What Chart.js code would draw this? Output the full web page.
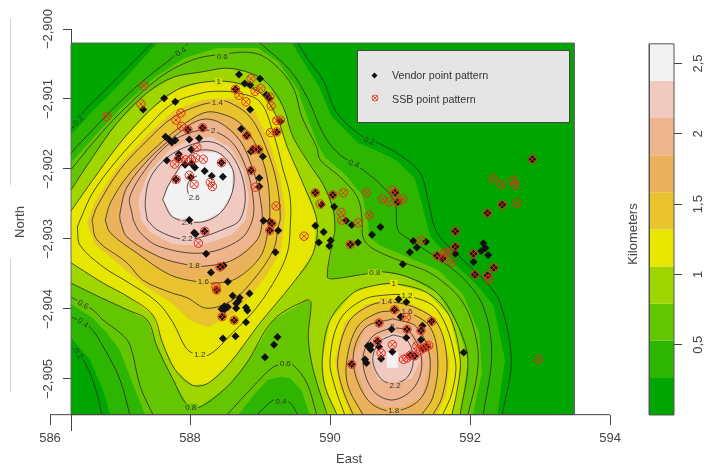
<!DOCTYPE html>
<html>
<head>
<meta charset="utf-8">
<script src="https://cdn.jsdelivr.net/npm/chart.js@4/dist/chart.umd.min.js"></script>
<style>
html, body { margin: 0; background: #fff; }
canvas { display: block; }
</style>
</head>
<body>
<canvas id="graph" width="719" height="466"></canvas>
<script>
// Axes
const eastTicks = [586, 588, 590, 592, 594];
const northTicks = [-2.9, -2.901, -2.902, -2.903, -2.904, -2.905];
const kmTicks = [0.5, 1, 1.5, 2, 2.5];
const kmLevels = [0, 0.264, 0.528, 0.792, 1.056, 1.32, 1.584, 1.848, 2.112, 2.376, 2.64];
const bandColors = ['#00A600', '#2DB600', '#63C600', '#A0D600', '#E6E600', '#E8C32E', '#EBB25E', '#EDB48E', '#F0C9C0', '#F2F2F2'];
const plotEast = [586.30, 593.49];
const plotNorth = [-2.9002, -2.90551];

// Contour lines
const c02a = [[586.30,-2.90144],[586.50,-2.90116],[586.76,-2.90090],[587.10,-2.90056],[587.46,-2.90020]];
const c02b = [[589.54,-2.90020],[589.69,-2.90044],[589.90,-2.90073],[590.10,-2.90120],[590.47,-2.90154],[590.69,-2.90163],[591.00,-2.90180],[591.29,-2.90206],[591.40,-2.90244],[591.53,-2.90291],[591.86,-2.90326],[592.24,-2.90363],[592.43,-2.90391],[592.59,-2.90473],[592.46,-2.90551]];
const c02c = [[586.30,-2.90454],[586.50,-2.90477],[586.67,-2.90520],[586.74,-2.90551]];
const c04a = [[586.30,-2.90177],[586.61,-2.90144],[587.00,-2.90104],[587.39,-2.90069],[587.76,-2.90040],[587.97,-2.90020]];
const c04b = [[589.00,-2.90020],[589.43,-2.90059],[589.69,-2.90101],[589.90,-2.90149],[590.10,-2.90176],[590.34,-2.90193],[590.47,-2.90201],[590.76,-2.90226],[590.93,-2.90249],[590.97,-2.90287],[591.14,-2.90301],[591.47,-2.90323],[591.90,-2.90356],[592.19,-2.90397],[592.31,-2.90463],[592.19,-2.90551]];
const c04c = [[586.30,-2.90411],[586.57,-2.90426],[586.76,-2.90454],[587.00,-2.90501],[587.14,-2.90551]];
const c04d = [[588.96,-2.90551],[589.19,-2.90530],[589.30,-2.90530],[589.43,-2.90534],[589.54,-2.90551]];
const c06a = [[586.30,-2.90201],[586.61,-2.90163],[587.00,-2.90120],[587.57,-2.90069],[588.04,-2.90044],[588.39,-2.90037],[588.90,-2.90034],[589.19,-2.90049],[589.47,-2.90083],[589.60,-2.90126],[589.81,-2.90169],[589.86,-2.90187],[590.14,-2.90211],[590.39,-2.90240],[590.46,-2.90273],[590.47,-2.90297],[590.60,-2.90313],[591.04,-2.90333],[591.47,-2.90351],[591.90,-2.90391],[592.10,-2.90449],[592.10,-2.90494],[591.97,-2.90551]];
const c06b = [[586.30,-2.90383],[586.61,-2.90401],[586.76,-2.90416],[587.00,-2.90434],[587.14,-2.90451],[587.29,-2.90511],[587.47,-2.90551]];
const c06c = [[588.53,-2.90551],[588.90,-2.90511],[589.19,-2.90483],[589.36,-2.90479],[589.47,-2.90480],[589.67,-2.90506],[589.81,-2.90551]];
const c08a = [[586.30,-2.90230],[586.61,-2.90183],[586.96,-2.90134],[587.39,-2.90091],[587.76,-2.90069],[588.19,-2.90061],[588.53,-2.90056],[588.86,-2.90063],[589.10,-2.90077],[589.33,-2.90111],[589.47,-2.90154],[589.76,-2.90201],[589.89,-2.90220],[590.04,-2.90256],[590.07,-2.90287],[590.04,-2.90301],[589.96,-2.90354],[590.04,-2.90357],[590.57,-2.90349],[590.76,-2.90347],[591.10,-2.90354],[591.53,-2.90377],[591.81,-2.90420],[591.97,-2.90473],[591.86,-2.90551]];
const c08b = [[586.30,-2.90363],[586.71,-2.90383],[587.10,-2.90401],[587.39,-2.90416],[587.53,-2.90454],[587.76,-2.90501],[587.96,-2.90537],[588.14,-2.90540],[588.53,-2.90511],[588.81,-2.90477],[589.19,-2.90416],[589.67,-2.90387],[589.73,-2.90391],[589.69,-2.90440],[589.76,-2.90487],[589.96,-2.90551]];
const c10a = [[586.30,-2.90260],[586.61,-2.90216],[587.00,-2.90163],[587.43,-2.90116],[587.81,-2.90087],[588.19,-2.90076],[588.61,-2.90076],[589.00,-2.90091],[589.24,-2.90126],[589.39,-2.90169],[589.61,-2.90220],[589.81,-2.90273],[589.76,-2.90320],[589.47,-2.90363],[589.00,-2.90420],[588.57,-2.90477],[588.26,-2.90506],[588.04,-2.90509],[587.79,-2.90487],[587.61,-2.90449],[587.47,-2.90409],[587.14,-2.90384],[586.76,-2.90363],[586.30,-2.90334]];
const c10b = [[590.10,-2.90551],[589.93,-2.90511],[589.89,-2.90473],[590.00,-2.90416],[590.33,-2.90377],[590.61,-2.90367],[590.91,-2.90364],[591.39,-2.90377],[591.71,-2.90411],[591.86,-2.90473],[591.81,-2.90520],[591.74,-2.90551]];
const c12a = [[586.39,-2.90283],[586.43,-2.90273],[586.61,-2.90234],[586.96,-2.90187],[587.39,-2.90140],[587.76,-2.90106],[588.19,-2.90091],[588.41,-2.90089],[588.67,-2.90091],[589.00,-2.90104],[589.19,-2.90149],[589.33,-2.90201],[589.43,-2.90240],[589.43,-2.90287],[589.39,-2.90320],[589.24,-2.90354],[588.96,-2.90397],[588.61,-2.90434],[588.26,-2.90466],[588.04,-2.90463],[587.93,-2.90454],[587.76,-2.90420],[587.53,-2.90390],[587.10,-2.90361],[586.76,-2.90340],[586.43,-2.90309],[586.39,-2.90283]];
const c12b = [[590.21,-2.90551],[590.07,-2.90511],[590.00,-2.90473],[590.14,-2.90416],[590.47,-2.90387],[590.81,-2.90380],[591.10,-2.90381],[591.53,-2.90401],[591.79,-2.90473],[591.74,-2.90520],[591.61,-2.90551]];
const c14a = [[586.60,-2.90273],[586.67,-2.90254],[587.00,-2.90201],[587.39,-2.90159],[587.76,-2.90126],[588.14,-2.90109],[588.39,-2.90104],[588.54,-2.90104],[588.86,-2.90126],[589.10,-2.90173],[589.24,-2.90220],[589.29,-2.90269],[589.26,-2.90283],[589.19,-2.90316],[588.90,-2.90359],[588.61,-2.90387],[588.24,-2.90399],[587.96,-2.90384],[587.71,-2.90376],[587.33,-2.90359],[587.10,-2.90334],[586.67,-2.90301],[586.60,-2.90273]];
const c14b = [[590.33,-2.90551],[590.17,-2.90511],[590.11,-2.90473],[590.26,-2.90420],[590.53,-2.90397],[590.81,-2.90390],[591.19,-2.90397],[591.53,-2.90420],[591.67,-2.90473],[591.60,-2.90526],[591.47,-2.90551]];
const c16a = [[586.79,-2.90273],[586.86,-2.90249],[587.10,-2.90211],[587.47,-2.90173],[587.86,-2.90140],[588.19,-2.90120],[588.41,-2.90120],[588.71,-2.90134],[588.96,-2.90169],[589.10,-2.90211],[589.14,-2.90259],[589.11,-2.90291],[589.00,-2.90326],[588.67,-2.90356],[588.39,-2.90363],[588.10,-2.90361],[587.71,-2.90351],[587.24,-2.90320],[586.86,-2.90291],[586.79,-2.90273]];
const c16b = [[590.47,-2.90551],[590.26,-2.90511],[590.24,-2.90473],[590.39,-2.90426],[590.67,-2.90406],[590.90,-2.90403],[591.10,-2.90404],[591.43,-2.90426],[591.54,-2.90473],[591.47,-2.90526],[591.31,-2.90551]];
const c18a = [[587.00,-2.90273],[587.10,-2.90297],[587.57,-2.90326],[587.97,-2.90337],[588.19,-2.90339],[588.61,-2.90330],[588.96,-2.90301],[589.03,-2.90273],[589.00,-2.90240],[588.90,-2.90201],[588.71,-2.90159],[588.41,-2.90133],[588.14,-2.90130],[587.81,-2.90151],[587.43,-2.90184],[587.10,-2.90226],[587.00,-2.90263],[587.00,-2.90273]];
const c18b = [[590.90,-2.90414],[591.24,-2.90426],[591.43,-2.90473],[591.31,-2.90526],[590.91,-2.90546],[590.54,-2.90530],[590.33,-2.90473],[590.50,-2.90427],[590.90,-2.90414]];
const c20a = [[587.19,-2.90273],[587.29,-2.90291],[587.57,-2.90311],[588.19,-2.90320],[588.71,-2.90301],[588.89,-2.90273],[588.90,-2.90240],[588.81,-2.90201],[588.61,-2.90163],[588.33,-2.90146],[588.04,-2.90147],[587.71,-2.90163],[587.39,-2.90197],[587.14,-2.90240],[587.17,-2.90263],[587.19,-2.90273]];
const c20b = [[590.89,-2.90426],[591.14,-2.90433],[591.31,-2.90473],[591.21,-2.90511],[590.90,-2.90530],[590.61,-2.90516],[590.47,-2.90473],[590.60,-2.90440],[590.89,-2.90426]];
const c22a = [[587.39,-2.90273],[587.53,-2.90287],[587.86,-2.90300],[588.10,-2.90299],[588.53,-2.90284],[588.71,-2.90273],[588.79,-2.90240],[588.71,-2.90201],[588.53,-2.90173],[588.29,-2.90161],[588.00,-2.90166],[587.67,-2.90184],[587.43,-2.90213],[587.36,-2.90249],[587.39,-2.90273]];
const c22b = [[590.90,-2.90437],[591.10,-2.90444],[591.19,-2.90473],[591.11,-2.90497],[590.93,-2.90506],[590.74,-2.90501],[590.61,-2.90473],[590.71,-2.90447],[590.90,-2.90437]];
const c24 = [[587.61,-2.90244],[587.71,-2.90220],[588.04,-2.90177],[588.39,-2.90176],[588.61,-2.90201],[588.60,-2.90234],[588.43,-2.90263],[588.14,-2.90276],[587.76,-2.90269],[587.61,-2.90244]];
const c26 = [[587.99,-2.90240],[587.96,-2.90226],[588.01,-2.90214],[588.10,-2.90210]];
const contourLines = [c02a, c02b, c02c, c04a, c04b, c04c, c04d, c06a, c06b, c06c, c08a, c08b, c10a, c10b, c12a, c12b, c14a, c14b, c16a, c16b, c18a, c18b, c20a, c20b, c22a, c22b, c24, c26];

// Band edges between the lines
const f264 = [[586.30,-2.90151],[586.57,-2.90121],[586.83,-2.90096],[587.17,-2.90060],[587.53,-2.90020],[589.46,-2.90020],[589.60,-2.90044],[589.83,-2.90080],[590.03,-2.90126],[590.40,-2.90163],[590.61,-2.90171],[590.94,-2.90187],[591.21,-2.90213],[591.31,-2.90249],[591.43,-2.90296],[591.74,-2.90331],[592.14,-2.90370],[592.34,-2.90396],[592.50,-2.90473],[592.39,-2.90551],[586.86,-2.90551],[586.76,-2.90516],[586.57,-2.90473],[586.30,-2.90441]];
const f528 = [[586.30,-2.90191],[586.61,-2.90156],[587.00,-2.90114],[587.50,-2.90069],[587.93,-2.90041],[588.39,-2.90027],[588.97,-2.90027],[589.26,-2.90047],[589.54,-2.90087],[589.70,-2.90133],[589.83,-2.90166],[589.93,-2.90184],[590.21,-2.90207],[590.46,-2.90237],[590.54,-2.90276],[590.56,-2.90297],[590.71,-2.90309],[591.14,-2.90327],[591.54,-2.90344],[591.90,-2.90379],[592.13,-2.90434],[592.17,-2.90490],[592.04,-2.90551],[589.71,-2.90551],[589.59,-2.90516],[589.43,-2.90499],[589.29,-2.90497],[589.11,-2.90501],[588.91,-2.90523],[588.69,-2.90551],[587.36,-2.90551],[587.19,-2.90509],[587.00,-2.90459],[586.81,-2.90434],[586.61,-2.90413],[586.30,-2.90393]];
const f792 = [...c08a, ...c08b.slice().reverse()];
const f132a = [[586.53,-2.90276],[586.64,-2.90247],[586.97,-2.90196],[587.39,-2.90151],[587.76,-2.90117],[588.17,-2.90101],[588.41,-2.90099],[588.63,-2.90100],[588.93,-2.90117],[589.14,-2.90163],[589.29,-2.90213],[589.36,-2.90259],[589.34,-2.90284],[589.29,-2.90319],[589.06,-2.90357],[588.64,-2.90406],[588.26,-2.90426],[588.00,-2.90416],[587.73,-2.90391],[587.41,-2.90371],[587.10,-2.90346],[586.64,-2.90307]];
const f132b = [[590.29,-2.90551],[590.14,-2.90511],[590.07,-2.90473],[590.21,-2.90419],[590.50,-2.90394],[590.81,-2.90386],[591.14,-2.90391],[591.53,-2.90413],[591.71,-2.90473],[591.66,-2.90523],[591.53,-2.90551]];
const f2112a = [[587.30,-2.90273],[587.43,-2.90290],[587.74,-2.90307],[588.14,-2.90310],[588.60,-2.90294],[588.80,-2.90273],[588.84,-2.90240],[588.76,-2.90201],[588.57,-2.90169],[588.30,-2.90154],[588.01,-2.90157],[587.69,-2.90174],[587.40,-2.90206],[587.26,-2.90244]];
const f2112b = [[590.90,-2.90433],[591.14,-2.90440],[591.29,-2.90473],[591.17,-2.90499],[590.91,-2.90507],[590.69,-2.90501],[590.57,-2.90473],[590.66,-2.90444]];
const f2376b = [[590.81,-2.90461],[590.97,-2.90461],[590.97,-2.90484],[590.81,-2.90484]];
const plotRect = [[plotEast[0],plotNorth[0]],[plotEast[1],plotNorth[0]],[plotEast[1],plotNorth[1]],[plotEast[0],plotNorth[1]]];
// band index -> polygons
const bandShapes = [
    [plotRect], [f264], [f528], [f792], [c10a, c10b], [f132a, f132b],
    [c16a, c16b], [c18a, c18b], [f2112a, f2112b], [c24, f2376b]
];

// Contour labels
const labelText = ['0.2','0.4','0.6','1','1.4','2','2.6','2.4','2.2','1.8','1.6','1.2','0.8','0.6','0.4','0.2','0.2','0.4','0.6','0.4','0.8','1','1.2','1.4','1.6','2','2.2','1.8'];
const labelEast = [586.41,587.87,588.46,588.41,588.39,588.33,588.06,587.96,587.96,588.06,588.19,588.14,588.01,586.47,586.47,586.40,590.56,590.34,589.36,589.30,590.64,590.91,591.10,590.81,591.10,590.89,590.93,590.91];
const labelNorth = [-2.90131,-2.90033,-2.90039,-2.90076,-2.90106,-2.90146,-2.90241,-2.90277,-2.90300,-2.90339,-2.90361,-2.90466,-2.90541,-2.90394,-2.90420,-2.90464,-2.90160,-2.90193,-2.90479,-2.90533,-2.90349,-2.90364,-2.90381,-2.90390,-2.90404,-2.90426,-2.90510,-2.90546];
const labelTilt = [-45,-30,0,0,0,0,0,0,0,0,0,0,0,30,35,60,20,20,0,0,0,0,0,0,0,0,0,0];

// Point patterns
const vendorPoints = [[588.70,-2.90065],[589.00,-2.90071],[588.78,-2.90078],[588.86,-2.90080],[588.65,-2.90086],[587.63,-2.90099],[587.79,-2.90104],[587.33,-2.90115],[588.86,-2.90115],[589.13,-2.90099],[589.09,-2.90094],[589.29,-2.90132],[589.24,-2.90147],[587.97,-2.90144],[588.18,-2.90141],[588.73,-2.90143],[588.81,-2.90152],[587.65,-2.90154],[587.70,-2.90158],[587.74,-2.90162],[587.79,-2.90159],[587.99,-2.90158],[588.13,-2.90156],[588.02,-2.90172],[587.84,-2.90179],[587.83,-2.90185],[588.90,-2.90172],[588.98,-2.90172],[588.87,-2.90175],[589.04,-2.90182],[587.67,-2.90188],[587.93,-2.90194],[588.02,-2.90192],[588.07,-2.90198],[588.21,-2.90203],[588.45,-2.90191],[588.87,-2.90202],[588.99,-2.90213],[587.80,-2.90215],[588.01,-2.90212],[588.31,-2.90210],[588.47,-2.90211],[588.99,-2.90225],[587.99,-2.90273],[589.05,-2.90274],[589.14,-2.90275],[589.17,-2.90278],[589.79,-2.90234],[589.88,-2.90251],[589.79,-2.90281],
    [588.06,-2.90291],[588.08,-2.90293],[588.21,-2.90289],[589.14,-2.90288],[589.26,-2.90288],[589.91,-2.90290],[589.84,-2.90305],[589.99,-2.90310],[589.22,-2.90319],[588.23,-2.90321],[588.48,-2.90338],[588.43,-2.90340],[588.30,-2.90348],[588.54,-2.90361],[588.38,-2.90373],[588.85,-2.90378],[588.61,-2.90381],[588.71,-2.90384],[588.69,-2.90389],[588.66,-2.90392],[588.54,-2.90397],[588.49,-2.90396],[588.45,-2.90400],[588.49,-2.90401],[588.66,-2.90399],[588.80,-2.90398],[588.82,-2.90402],[588.46,-2.90411],[588.63,-2.90416],[588.80,-2.90419],[588.47,-2.90442],[588.65,-2.90439],[589.25,-2.90440],[589.20,-2.90451],[589.07,-2.90469],
    [592.89,-2.90186],[592.46,-2.90251],[592.25,-2.90263],[590.04,-2.90237],[590.93,-2.90234],[590.97,-2.90247],[590.06,-2.90254],[590.23,-2.90274],[590.31,-2.90280],[590.72,-2.90283],
    [591.79,-2.90289],[590.01,-2.90302],[590.29,-2.90308],[590.40,-2.90305],[590.60,-2.90294],[591.19,-2.90303],[591.37,-2.90304],[591.24,-2.90312],[591.14,-2.90319],[591.04,-2.90336],[591.79,-2.90311],[591.53,-2.90324],[591.61,-2.90328],[591.79,-2.90321],[592.05,-2.90321],[592.19,-2.90306],[592.22,-2.90313],[592.16,-2.90317],[592.26,-2.90323],[592.05,-2.90333],[592.34,-2.90341],[592.07,-2.90351],[592.25,-2.90352],
    [590.98,-2.90386],[591.09,-2.90390],[590.92,-2.90401],[591.01,-2.90411],[591.45,-2.90418],[590.70,-2.90420],[590.88,-2.90429],[591.10,-2.90429],[591.09,-2.90441],[591.32,-2.90424],[591.30,-2.90431],[591.30,-2.90444],[590.68,-2.90446],[590.58,-2.90452],[590.54,-2.90453],[590.58,-2.90458],[590.70,-2.90454],[591.38,-2.90454],[591.33,-2.90456],[590.89,-2.90461],[590.73,-2.90471],[590.50,-2.90472],[590.52,-2.90477],[590.31,-2.90479],[591.15,-2.90466],[591.21,-2.90467],[591.91,-2.90462]];
const ssbPoints = [[586.81,-2.90125],[587.34,-2.90081],[587.30,-2.90107],[587.87,-2.90120],[587.80,-2.90130],[587.88,-2.90139],[587.97,-2.90144],[588.18,-2.90141],[588.87,-2.90071],[589.01,-2.90085],[588.93,-2.90089],[588.65,-2.90086],[588.70,-2.90095],[588.80,-2.90104],[589.14,-2.90097],[589.16,-2.90110],[589.24,-2.90131],[589.29,-2.90130],[589.15,-2.90148],[589.24,-2.90147],[588.81,-2.90152],[588.91,-2.90172],[588.98,-2.90172],[588.10,-2.90169],[587.84,-2.90185],[587.78,-2.90193],[587.94,-2.90187],[588.02,-2.90187],[588.08,-2.90184],[588.19,-2.90186],[588.45,-2.90191],[587.99,-2.90209],[587.80,-2.90215],[588.06,-2.90222],[588.29,-2.90219],[588.32,-2.90225],[588.88,-2.90202],[588.93,-2.90226],[589.23,-2.90253],[589.79,-2.90234],[589.86,-2.90250],[589.17,-2.90278],[588.21,-2.90289],[589.14,-2.90288],
    [588.12,-2.90306],[588.43,-2.90340],[588.37,-2.90368],[588.38,-2.90373],[588.46,-2.90411],[588.63,-2.90416],[589.63,-2.90296],
    [592.89,-2.90186],[592.33,-2.90214],[592.45,-2.90222],[592.62,-2.90216],[592.65,-2.90223],[592.67,-2.90249],[592.46,-2.90251],[592.25,-2.90263],[590.04,-2.90237],[590.19,-2.90234],[590.52,-2.90234],[590.89,-2.90230],[590.93,-2.90234],[590.75,-2.90243],[590.85,-2.90247],[590.97,-2.90247],[591.04,-2.90243],[590.16,-2.90262],[590.17,-2.90273],[590.56,-2.90266],[590.40,-2.90277],
    [591.79,-2.90289],[590.29,-2.90308],[591.30,-2.90302],[591.79,-2.90311],[591.53,-2.90324],[591.64,-2.90319],[591.69,-2.90319],[591.61,-2.90328],[592.05,-2.90321],[591.74,-2.90333],[592.34,-2.90341],[592.07,-2.90351],[592.25,-2.90352],[592.27,-2.90358],
    [590.92,-2.90401],[591.09,-2.90412],[591.45,-2.90418],[590.70,-2.90420],[591.10,-2.90429],[591.30,-2.90431],[590.68,-2.90446],[590.89,-2.90451],[591.24,-2.90453],[591.38,-2.90454],[591.33,-2.90456],[591.41,-2.90452],[591.29,-2.90459],[590.73,-2.90463],[590.31,-2.90479],[591.15,-2.90466],[591.05,-2.90472],[591.10,-2.90470],[591.21,-2.90467],[592.98,-2.90472]];

const toXY = list => list.map(p => ({ x: p[0], y: p[1] }));
const inkColor = '#444';
const redColor = '#E0301E';
const fontFamily = '"Liberation Sans", Arial, sans-serif';

// Painter's order: first pushed is drawn first
const datasets = [];
function addShape(points, color) {
    datasets.push({ data: toXY(points), showLine: true, pointRadius: 0, borderWidth: 0, tension: 0, backgroundColor: color, borderColor: color, fill: 'shape' });
}
bandShapes.forEach((shapes, i) => shapes.forEach(s => addShape(s, bandColors[i])));
datasets[datasets.length - 1].isLastFill = true;

contourLines.forEach(line => {
    datasets.push({ data: toXY(line), showLine: true, pointRadius: 0, borderWidth: 0.8, tension: 0.35, borderColor: '#2a2a2a', fill: false, isLastLine: line === c26 });
});

// plot frame
datasets.push({
    data: [{ x: plotEast[0], y: plotNorth[0] }, { x: plotEast[1], y: plotNorth[0] }, { x: plotEast[1], y: plotNorth[1] }, { x: plotEast[0], y: plotNorth[1] }, { x: plotEast[0], y: plotNorth[0] }],
    showLine: true, pointRadius: 0, borderWidth: 1, tension: 0, borderColor: '#666', fill: false
});
// x axis line, tick to tick
datasets.push({
    data: [{ x: eastTicks[0], y: plotNorth[1] }, { x: eastTicks[eastTicks.length - 1], y: plotNorth[1] }],
    showLine: true, pointRadius: 0, borderWidth: 1, tension: 0, borderColor: inkColor, fill: false
});

datasets.push({ data: toXY(vendorPoints), pointStyle: 'rectRot', pointRadius: 4, borderWidth: 0, backgroundColor: '#111', borderColor: '#111' });
datasets.push({ data: toXY(ssbPoints), pointStyle: 'circle', pointRadius: 4.2, borderWidth: 1, backgroundColor: 'transparent', borderColor: redColor });
datasets.push({ data: toXY(ssbPoints), pointStyle: 'crossRot', pointRadius: 4.2, borderWidth: 1, backgroundColor: 'transparent', borderColor: redColor });

// colour key
bandColors.forEach((color, i) => {
    datasets.push({
        xAxisID: 'xKey', yAxisID: 'yKey', showLine: true, pointRadius: 0, borderWidth: 0, tension: 0, backgroundColor: color, borderColor: color, fill: 'shape',
        data: [{ x: 0, y: kmLevels[i] }, { x: 1, y: kmLevels[i] }, { x: 1, y: kmLevels[i + 1] }, { x: 0, y: kmLevels[i + 1] }]
    });
});
datasets.push({
    xAxisID: 'xKey', yAxisID: 'yKey', showLine: true, pointRadius: 0, borderWidth: 1, tension: 0, borderColor: '#555', fill: false,
    data: [{ x: 0, y: 0 }, { x: 1, y: 0 }, { x: 1, y: kmLevels[10] }, { x: 0, y: kmLevels[10] }, { x: 0, y: 0 }]
});
datasets.forEach((d, i) => { d.order = datasets.length - i; d.clip = false; });

const labelPatches = [];
const drawingPlugin = {
    id: 'drawingPlugin',
    afterDatasetDraw(chart, args) {
        const ds = chart.data.datasets[args.index];
        const ctx = chart.ctx;
        if (ds.isLastFill) {
            // remember what lies under each contour label
            labelText.forEach((t, i) => {
                const x = chart.scales.x.getPixelForValue(labelEast[i]);
                const y = chart.scales.y.getPixelForValue(labelNorth[i]);
                const px = ctx.getImageData(Math.round(x), Math.round(y), 1, 1).data;
                labelPatches[i] = `rgb(${px[0]},${px[1]},${px[2]})`;
            });
        }
        if (ds.isLastLine) {
            ctx.save();
            ctx.font = '8px ' + fontFamily;
            ctx.textAlign = 'center';
            ctx.textBaseline = 'middle';
            labelText.forEach((t, i) => {
                const x = chart.scales.x.getPixelForValue(labelEast[i]);
                const y = chart.scales.y.getPixelForValue(labelNorth[i]);
                const w = ctx.measureText(t).width + 3;
                ctx.save();
                ctx.translate(x, y);
                ctx.rotate(labelTilt[i] * Math.PI / 180);
                ctx.fillStyle = labelPatches[i];
                ctx.fillRect(-w / 2, -4, w, 8);
                ctx.fillStyle = '#333';
                ctx.fillText(t, 0, 0);
                ctx.restore();
            });
            ctx.restore();
        }
    },
    afterDraw(chart) {
        const ctx = chart.ctx;
        const sx = chart.scales.x, sy = chart.scales.y, sk = chart.scales.yKey;
        ctx.save();
        // faint scan lines left of the North title
        ctx.strokeStyle = '#d4d4d4';
        ctx.lineWidth = 1;
        ctx.beginPath();
        ctx.moveTo(10.5, 18); ctx.lineTo(10.5, 185);
        ctx.moveTo(10.5, 258); ctx.lineTo(10.5, 392);
        ctx.stroke();

        // legend box
        ctx.fillStyle = '#E5E5E5';
        ctx.strokeStyle = '#444';
        ctx.fillRect(357, 50, 212, 72);
        ctx.strokeRect(357.5, 50.5, 212, 72);
        ctx.fillStyle = '#111';
        ctx.beginPath();
        ctx.moveTo(374.5, 72.5); ctx.lineTo(377.5, 75.5); ctx.lineTo(374.5, 78.5); ctx.lineTo(371.5, 75.5);
        ctx.fill();
        ctx.strokeStyle = redColor;
        ctx.lineWidth = 0.8;
        ctx.beginPath();
        ctx.arc(375, 98, 3, 0, Math.PI * 2);
        ctx.moveTo(372.5, 95.5); ctx.lineTo(377.5, 100.5);
        ctx.moveTo(377.5, 95.5); ctx.lineTo(372.5, 100.5);
        ctx.stroke();
        ctx.fillStyle = '#333';
        ctx.font = '10.7px ' + fontFamily;
        ctx.textAlign = 'left';
        ctx.textBaseline = 'middle';
        ctx.fillText('Vendor point pattern', 392, 76);
        ctx.fillText('SSB point pattern', 392, 100);

        // rotated tick labels and titles
        ctx.textAlign = 'center';
        ctx.fillStyle = inkColor;
        ctx.font = '13px ' + fontFamily;
        const left = sx.getPixelForValue(plotEast[0]);
        const rotated = (text, x, y) => {
            ctx.save();
            ctx.translate(x, y);
            ctx.rotate(-Math.PI / 2);
            ctx.fillText(text, 0, 0);
            ctx.restore();
        };
        northTicks.forEach(v => {
            rotated('\u2212' + Math.abs(v).toFixed(3).replace('.', ','), left - 23, sy.getPixelForValue(v));
        });
        kmTicks.forEach(v => {
            rotated(String(v).replace('.', ','), 698, sk.getPixelForValue(v));
        });
        rotated('North', 20, 222);
        rotated('Kilometers', 633, 234);
        ctx.fillText('East', 349, 459);
        ctx.restore();
    }
};

new Chart(document.getElementById('graph'), {
    type: 'scatter',
    data: { datasets: datasets },
    plugins: [drawingPlugin],
    options: {
        responsive: false,
        animation: false,
        layout: { padding: { left: 50, top: 29, right: 0, bottom: 36 } },
        plugins: { legend: { display: false }, tooltip: { enabled: false } },
        scales: {
            x: {
                type: 'linear',
                min: 586,
                max: 594.914,
                position: { y: plotNorth[1] },
                afterBuildTicks: s => { s.ticks = eastTicks.map(value => ({ value })); },
                ticks: { color: inkColor, font: { family: fontFamily, size: 13 }, padding: 6, maxRotation: 0, autoSkip: false, callback: v => String(v) },
                grid: { drawOnChartArea: false, color: inkColor, tickLength: 10 },
                border: { display: false }
            },
            y: {
                type: 'linear',
                min: -2.905729,
                max: -2.9,
                position: { x: plotEast[0] },
                afterBuildTicks: s => { s.ticks = northTicks.map(value => ({ value })); },
                ticks: { display: false },
                grid: { drawOnChartArea: false, color: inkColor, tickLength: 8 },
                border: { color: inkColor }
            },
            xKey: { type: 'linear', min: -24.263, max: 1, display: false },
            yKey: {
                type: 'linear',
                min: -0.1067,
                max: 2.7454,
                position: 'right',
                afterBuildTicks: s => { s.ticks = kmTicks.map(value => ({ value })); },
                afterFit: s => { s.width = 45; },
                ticks: { display: false },
                grid: { drawOnChartArea: false, color: inkColor, tickLength: 8 },
                border: { display: false }
            }
        }
    }
});
</script>
</body>
</html>
